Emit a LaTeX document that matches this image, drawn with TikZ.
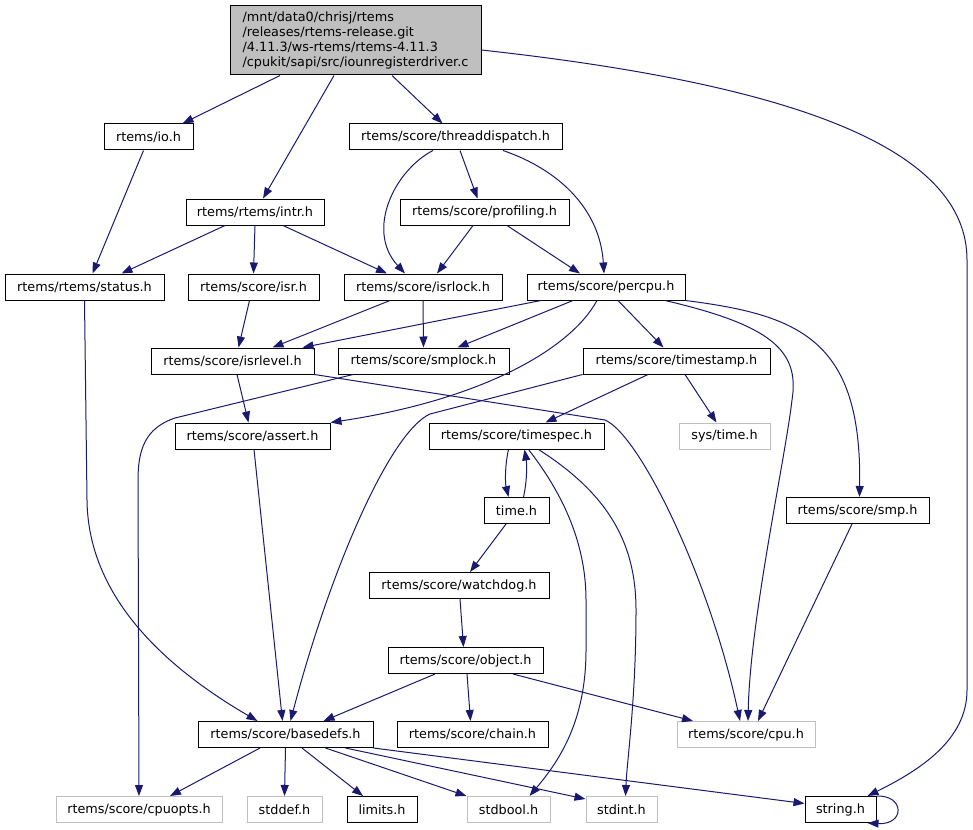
\documentclass[tikz,border=0pt]{standalone}
\usepackage{fontspec}
\setmainfont{DejaVu Sans}
\usetikzlibrary{arrows.meta}
\definecolor{edgeblue}{HTML}{191970}
\definecolor{extgray}{HTML}{BFBFBF}
\begin{document}
\begin{tikzpicture}[x=1pt, y=-1pt, >={Triangle[length=11pt,width=8pt]},
    hdr/.style={draw=black, fill=white, line width=1pt, minimum height=26pt, inner sep=0pt, font=\fontsize{12.8}{14.7}\selectfont},
    ext/.style={hdr, draw=extgray},
    dep/.style={->, draw=edgeblue, line width=1pt}]
\useasboundingbox (0,0) rectangle (973,829);

\node[hdr, fill=extgray, minimum width=251pt, minimum height=69pt, align=left] (main) at (355.5,40.5)
    {/mnt/data0/chrisj/rtems\\/releases/rtems-release.git\\/4.11.3/ws-rtems/rtems-4.11.3\\/cpukit/sapi/src/iounregisterdriver.c};

\node[hdr, minimum width=89pt] (io) at (148.5,137) {rtems/io.h};
\node[hdr, minimum width=213pt] (thd) at (455.5,137) {rtems/score/threaddispatch.h};
\node[hdr, minimum width=138pt] (intr) at (255,212) {rtems/rtems/intr.h};
\node[hdr, minimum width=169pt] (prof) at (484.5,212) {rtems/score/profiling.h};
\node[hdr, minimum width=159pt] (status) at (84.5,287) {rtems/rtems/status.h};
\node[hdr, minimum width=131pt] (isr) at (253.5,287) {rtems/score/isr.h};
\node[hdr, minimum width=158pt] (isrlock) at (423,287) {rtems/score/isrlock.h};
\node[hdr, minimum width=158pt] (percpu) at (606,287) {rtems/score/percpu.h};
\node[hdr, minimum width=163pt] (isrlevel) at (232.5,361) {rtems/score/isrlevel.h};
\node[hdr, minimum width=171pt] (smplock) at (423.5,361) {rtems/score/smplock.h};
\node[hdr, minimum width=187pt] (tstamp) at (676.5,361) {rtems/score/timestamp.h};
\node[hdr, minimum width=155pt] (assert) at (252.5,436) {rtems/score/assert.h};
\node[hdr, minimum width=175pt] (tspec) at (516.5,436) {rtems/score/timespec.h};
\node[ext, minimum width=91pt] (systime) at (724.5,436) {sys/time.h};
\node[hdr, minimum width=65pt] (time) at (516.5,510.5) {time.h};
\node[hdr, minimum width=143pt] (smp) at (857.5,510.5) {rtems/score/smp.h};
\node[hdr, minimum width=180pt] (watchdog) at (459,585.5) {rtems/score/watchdog.h};
\node[hdr, minimum width=155pt] (object) at (465.5,660.5) {rtems/score/object.h};
\node[hdr, minimum width=175pt] (basedefs) at (285.5,734.5) {rtems/score/basedefs.h};
\node[hdr, minimum width=151pt] (chain) at (472.5,734.5) {rtems/score/chain.h};
\node[ext, minimum width=138pt] (cpu) at (746,734.5) {rtems/score/cpu.h};
\node[ext, minimum width=166pt] (cpuopts) at (139,809.5) {rtems/score/cpuopts.h};
\node[ext, minimum width=75pt] (stddef) at (284.5,809.5) {stddef.h};
\node[hdr, minimum width=70pt] (limits) at (382,809.5) {limits.h};
\node[ext, minimum width=83pt] (stdbool) at (508.5,809.5) {stdbool.h};
\node[ext, minimum width=71pt] (stdint) at (621.5,809.5) {stdint.h};
\node[hdr, minimum width=71pt] (string) at (840.5,809.5) {string.h};

% straight includes: from/shift/to/shift
\foreach \a/\sa/\b/\sb in {main/-75.5/io/34, main/-21.5/intr/8, main/36.5/thd/-13,
    io/-5/status/8, thd/4.5/prof/-7, intr/-30/status/37, intr/0/isr/0,
    intr/28/isrlock/-36, prof/-11.5/isrlock/14, prof/22.5/percpu/-26,
    isr/-4/isrlevel/6, isrlock/-33/isrlevel/40, isrlock/0/smplock/0,
    percpu/-65/isrlevel/70, percpu/-33/smplock/34, percpu/12/tstamp/-13,
    isrlevel/4.5/assert/-4, assert/1.5/basedefs/-3, tstamp/-28.5/tspec/29,
    tstamp/8.5/systime/-8, time/-10.5/watchdog/11, watchdog/1/object/-2,
    object/-30.5/basedefs/38, object/1.5/chain/-2, object/47.5/cpu/-53,
    smp/-5.5/cpu/12, basedefs/-25.5/cpuopts/31, basedefs/0/stddef/0,
    basedefs/16.5/limits/-19}
{
    \draw[dep] ([xshift=\sa]\a.south) -- ([xshift=\sb]\b.north);
}

% curved includes
\draw[dep] ([yshift=-9.5]main.east) .. controls (800,85) and (967,150) .. (967,260) -- (967,690)
    .. controls (967,740) and (920,770) .. ([xshift=27]string.north);
\draw[dep] ([xshift=-22.5]thd.south) .. controls (395,170) and (365,230) .. ([xshift=-18]isrlock.north);
\draw[dep] ([xshift=47.5]thd.south) .. controls (560,170) and (600,210) .. ([xshift=-2]percpu.north);
\draw[dep] (status.south) -- (87,500) .. controls (88,600) and (170,670) .. ([xshift=-28]basedefs.north);
\draw[dep] ([xshift=-9]percpu.south) .. controls (570,350) and (480,400) .. (assert.north east);
\draw[dep] ([xshift=59]percpu.south) .. controls (770,325) and (800,350) .. (792,400)
    .. controls (785,460) and (750,620) .. ([xshift=2]cpu.north);
\draw[dep] (percpu.south east) .. controls (800,315) and (862,340) .. ([xshift=2]smp.north);
\draw[dep] (isrlevel.south east) -- (605,420) .. controls (640,435) and (710,580) .. ([xshift=-6]cpu.north);
\draw[dep] ([xshift=-70.5]smplock.south) -- (175,418) .. controls (145,428) and (138,450) .. (138,480) -- (cpuopts.north);
\draw[dep] (tstamp.south west) -- (430,414) .. controls (390,432) and (330,570) .. ([xshift=5]basedefs.north);
\draw[dep] ([xshift=-8]tspec.south) .. controls (505,465) and (505,482) .. ([xshift=-8]time.north);
\draw[dep] ([xshift=7]time.north) .. controls (527,482) and (527,465) .. ([xshift=8]tspec.south);
\draw[dep] ([xshift=12]tspec.south) .. controls (560,490) and (586,540) .. (586,600) -- (586,650)
    .. controls (586,720) and (560,760) .. ([xshift=21]stdbool.north);
\draw[dep] ([xshift=22]tspec.south) .. controls (610,495) and (636,545) .. (636,610)
    .. controls (636,700) and (627,760) .. ([xshift=4]stdint.north);
\draw[dep] ([xshift=40]basedefs.south) -- (stdbool.north west);
\draw[dep] ([xshift=60]basedefs.south) -- ([yshift=-3]stdint.north west);
\draw[dep] (basedefs.south east) -- ([yshift=6]string.west);
\draw[dep] (string.north east) .. controls (905,795) and (905,825) .. ([xshift=-9]string.south east);
\end{tikzpicture}
\end{document}
